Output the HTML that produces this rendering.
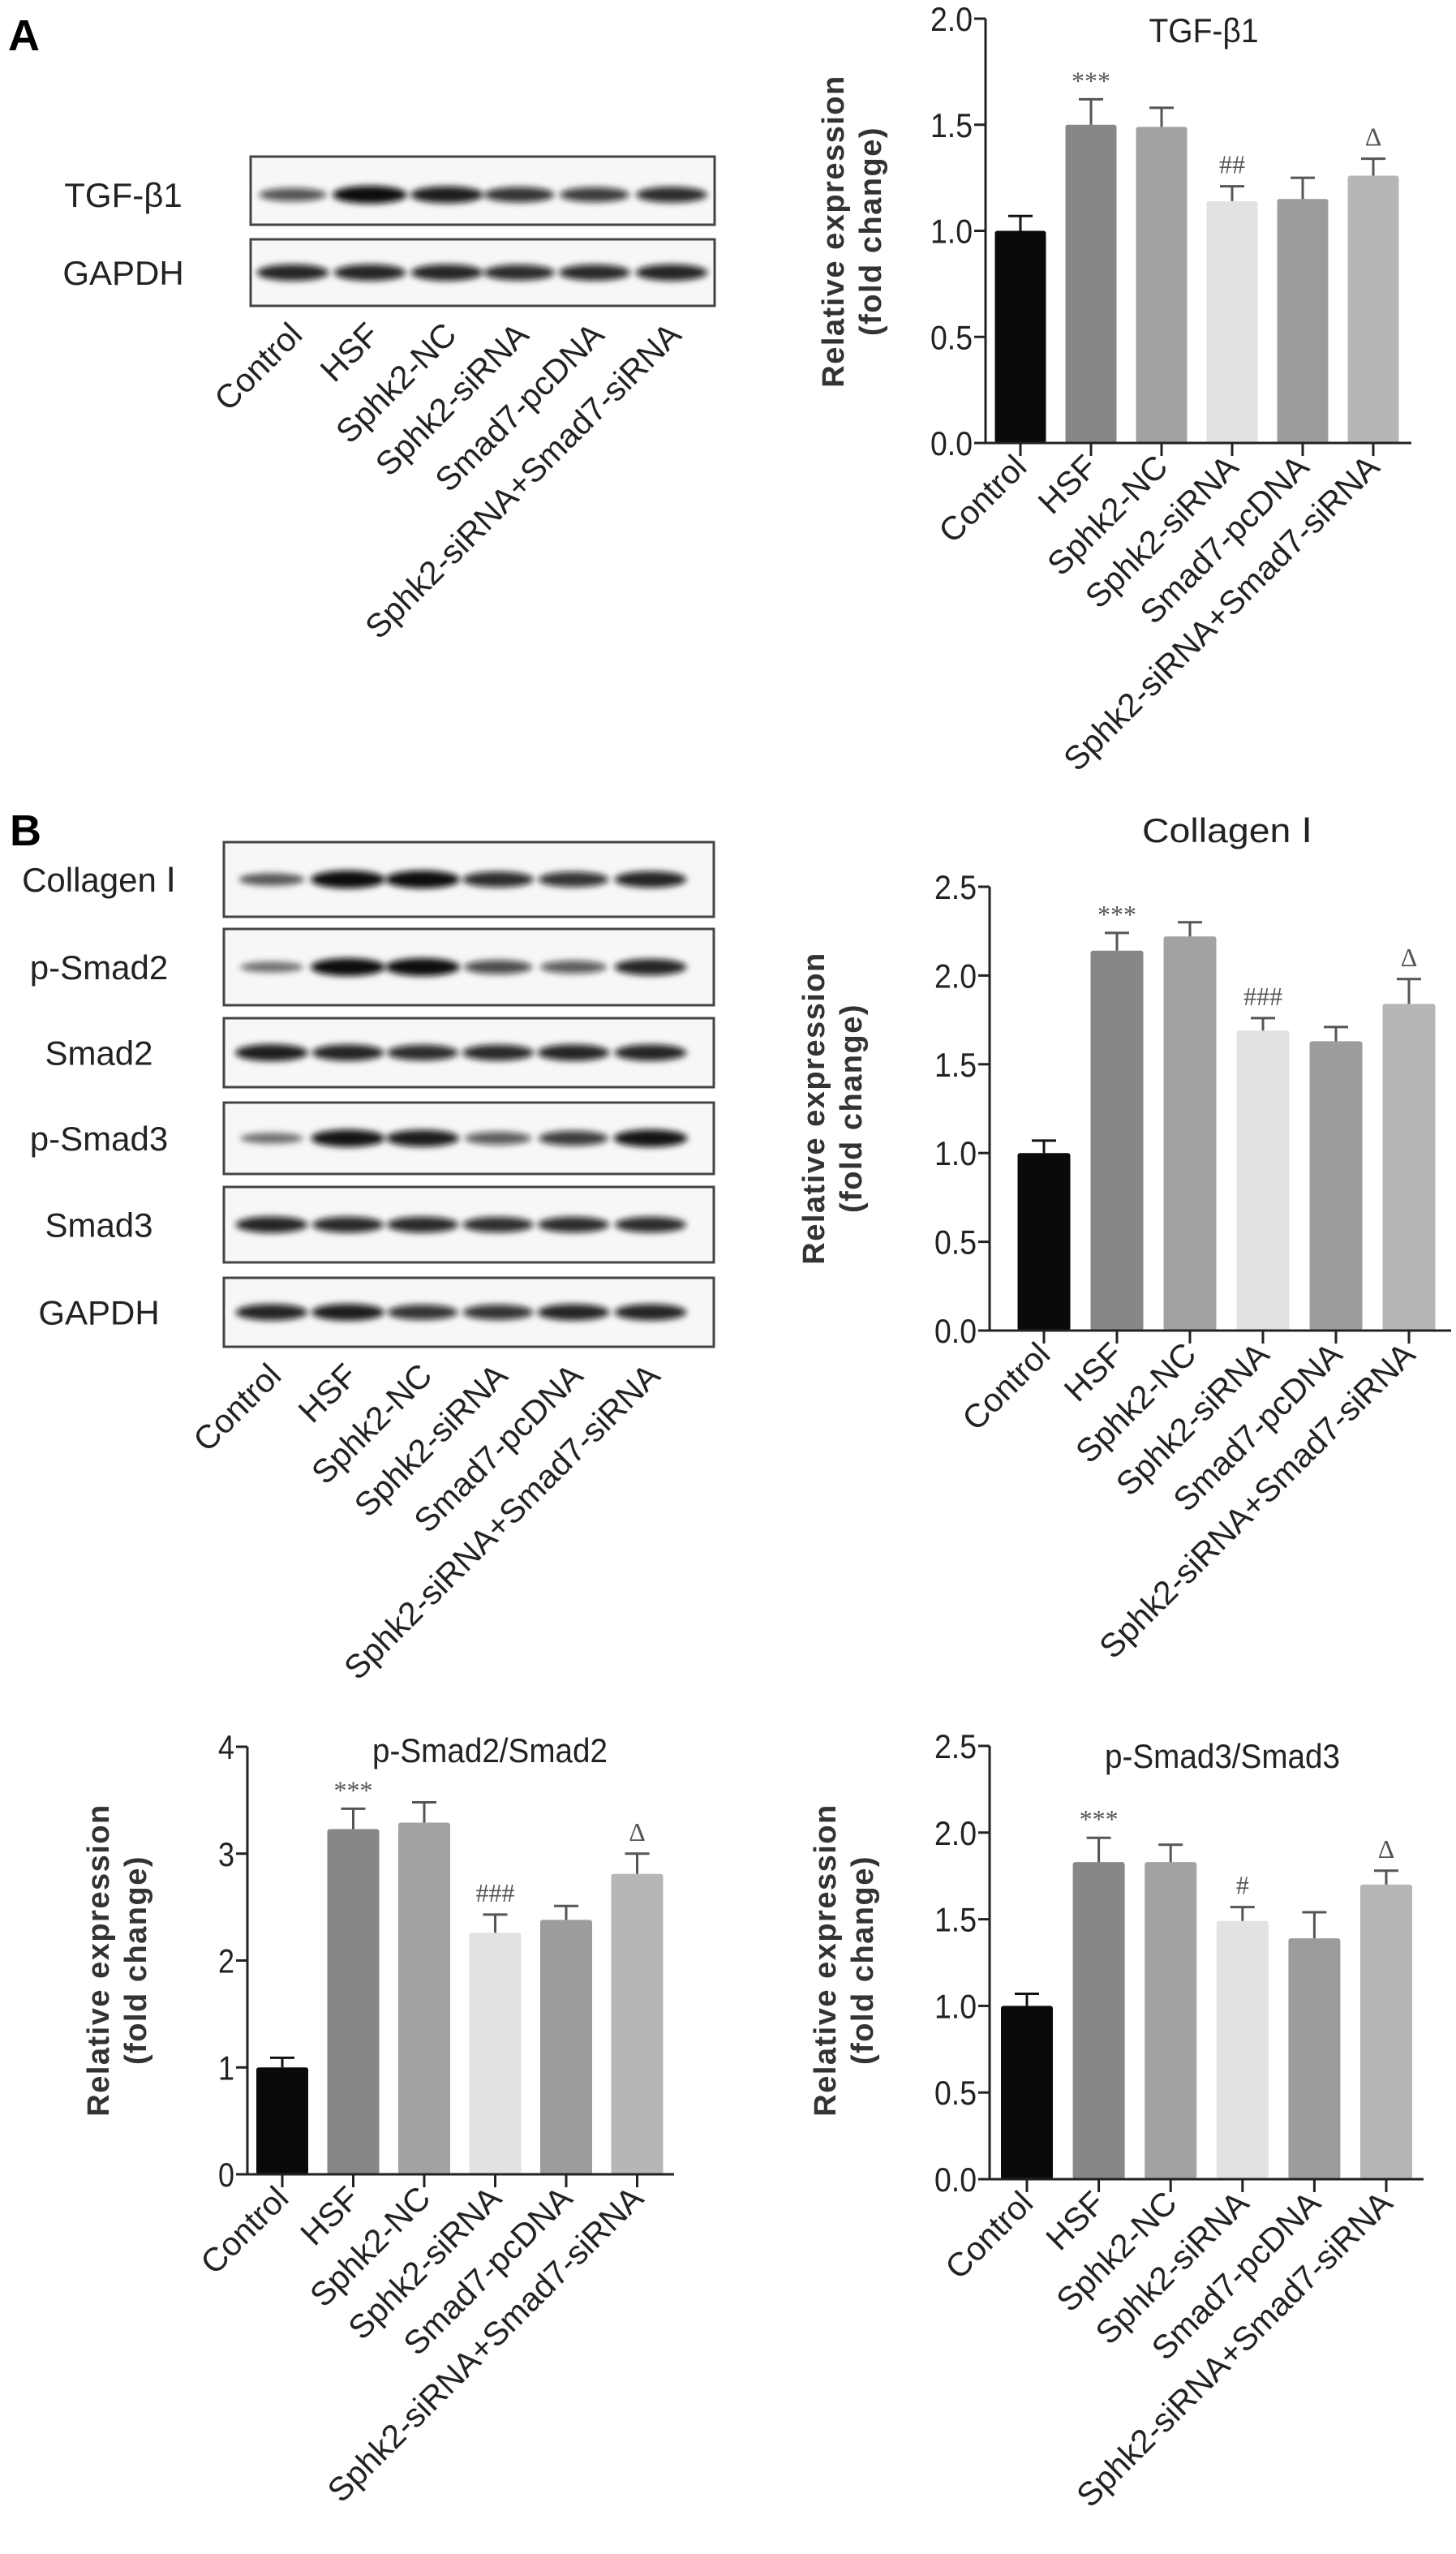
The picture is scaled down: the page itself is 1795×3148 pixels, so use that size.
<!DOCTYPE html>
<html><head><meta charset="utf-8"><style>
html,body{margin:0;padding:0;background:#fff;}
svg{display:block;font-family:"Liberation Sans",Arial,sans-serif;}
</style></head><body>
<svg id="fig" width="1795" height="3148" viewBox="0 0 1795 3148" xmlns="http://www.w3.org/2000/svg">
<defs>
<filter id="blur" x="-30%" y="-100%" width="160%" height="300%"><feGaussianBlur stdDeviation="4"/></filter>
</defs>
<text x="10" y="62" font-size="54" font-weight="bold">A</text>
<text x="12" y="1042" font-size="54" font-weight="bold">B</text>
<g id="root"></g>
</svg>
<script>
const categories = ["Control","HSF","Sphk2-NC","Sphk2-siRNA","Smad7-pcDNA","Sphk2-siRNA+Smad7-siRNA"];
const barColors = ["#0a0a0a","#878787","#a2a2a2","#e2e2e2","#9c9c9c","#b6b6b6"];

const tgfValues = [1.0,1.50,1.49,1.14,1.15,1.26];
const tgfErrors = [0.07,0.12,0.09,0.07,0.10,0.08];
const tgfMarks = ["","***","","##","","\u0394"];
const tgfTicks = ["0.0","0.5","1.0","1.5","2.0"];

const colValues = [1.0,2.14,2.22,1.69,1.63,1.84];
const colErrors = [0.07,0.10,0.08,0.07,0.08,0.14];
const colMarks = ["","***","","###","","\u0394"];
const colTicks = ["0.0","0.5","1.0","1.5","2.0","2.5"];

const ps2Values = [1.0,3.23,3.29,2.26,2.38,2.81];
const ps2Errors = [0.09,0.19,0.19,0.17,0.13,0.19];
const ps2Marks = ["","***","","###","","\u0394"];
const ps2Ticks = ["0","1","2","3","4"];

const ps3Values = [1.0,1.83,1.83,1.49,1.39,1.70];
const ps3Errors = [0.07,0.14,0.10,0.08,0.15,0.08];
const ps3Marks = ["","***","","#","","\u0394"];
const ps3Ticks = ["0.0","0.5","1.0","1.5","2.0","2.5"];

const blotARows = ["TGF-\u03b21","GAPDH"];
const blotAIntensity = [[0.55,1.0,0.9,0.75,0.7,0.8],[0.85,0.85,0.85,0.8,0.82,0.85]];
const blotBRows = ["Collagen \u2160","p-Smad2","Smad2","p-Smad3","Smad3","GAPDH"];
const blotBIntensity = [[0.45,1.0,1.0,0.8,0.75,0.85],[0.3,1.0,1.0,0.6,0.5,0.85],[0.9,0.85,0.8,0.82,0.85,0.85],[0.3,0.95,0.9,0.5,0.7,0.95],[0.85,0.82,0.82,0.78,0.8,0.8],[0.85,0.9,0.75,0.75,0.85,0.85]];

const NS = "http://www.w3.org/2000/svg";
const root = document.getElementById('root');
function el(tag, attrs, parent){
  const e = document.createElementNS(NS, tag);
  for (const k in attrs) e.setAttribute(k, attrs[k]);
  (parent||root).appendChild(e);
  return e;
}

function chart(o){
  const g = el('g',{});
  
  
  const ticks = o.ticks.map(Number);
  const ymax = ticks[ticks.length-1];
  const y = v => o.y0 - (v/ymax)*(o.y0-o.yTop);
  const x = i => o.x0 + o.first + i*o.step;
  o.values.forEach((v,i)=>{
    const cx = x(i);
    const b = el('rect',{x:cx-o.bw/2,y:y(v),width:o.bw,height:o.y0-y(v),fill:barColors[i],rx:3},g);
    
    
    const e = o.errors[i];
    const eb = el('path',{d:`M${cx},${y(v)} V${y(v+e)} M${cx-15},${y(v+e)} H${cx+15}`,stroke:i==0?'#111':'#555','stroke-width':3,fill:'none'},g);
    
    
    if (o.marks[i]) {
      const t = el('text',{x:cx,y:y(v+e)-16,'text-anchor':'middle','font-size':32,fill:'#555','font-family':'"Liberation Serif",serif'},g);
      t.textContent = o.marks[i];
      if (o.marks[i][0]=='*') t.setAttribute('y', y(v+e)-12);
      
      
    }
    el('line',{x1:cx,y1:o.y0,x2:cx,y2:o.y0+16,stroke:'#222','stroke-width':3},g);
    const lab = el('text',{transform:`translate(${cx+10},${o.y0+32}) rotate(-45)`,'text-anchor':'end','font-size':41,fill:'#222'},g);
    lab.textContent = categories[i];
    
    
  });
  const ax = el('path',{d:`M${o.x0},${o.yTop} V${o.y0} H${o.xEnd}`,stroke:'#222','stroke-width':3,fill:'none'},g);
  
  
  o.ticks.forEach(t=>{
    const ty = y(Number(t));
    el('line',{x1:o.x0-14,y1:ty,x2:o.x0,y2:ty,stroke:'#222','stroke-width':3},g);
    const tl = el('text',{x:o.x0-16,y:ty+15,'text-anchor':'end','font-size':42,fill:'#222',textLength:t.length>1?52:20,lengthAdjust:'spacingAndGlyphs'},g);
    tl.textContent = t;
    
    
  });
  const tt = el('text',{x:o.titleX,y:o.titleY,'text-anchor':'middle','font-size':42,fill:'#222',textLength:o.titleLen,lengthAdjust:'spacingAndGlyphs'},g);
  tt.textContent = o.title;
  
  
  const yl = el('text',{transform:`translate(${o.ylX},${o.ylY}) rotate(-90)`,'text-anchor':'middle','font-size':38,'font-weight':'bold',fill:'#333','letter-spacing':1.5},g);
  yl.textContent = 'Relative expression';
  
  
  const yl2 = el('text',{transform:`translate(${o.ylX+46},${o.ylY}) rotate(-90)`,'text-anchor':'middle','font-size':38,'font-weight':'bold',fill:'#333','letter-spacing':1.5},g);
  yl2.textContent = '(fold change)';
  
  
}

function blot(o){
  const g = el('g',{});
  
  
  o.rows.forEach((r,ri)=>{
    const [top,bot] = o.boxes[ri];
    const box = el('rect',{x:o.x0,y:top,width:o.x1-o.x0,height:bot-top,fill:'#f7f7f7',stroke:'#444','stroke-width':3},g);
    
    
    const cy = (top+bot)/2 + (ri==0&&o.rows.length==2?5:0);
    o.intens[ri].forEach((v,li)=>{
      const cx = o.lanes[li];
      const band = el('ellipse',{cx:cx,cy:cy,rx:36+v*10,ry:5+v*6,fill:`rgba(10,10,10,${0.35+0.65*v})`,filter:'url(#blur)'},g);
      
      
    });
    const lab = el('text',{x:o.labelX,y:cy+15,'text-anchor':'middle','font-size':42,fill:'#222'},g);
    lab.textContent = r;
    
    
  });
  const bottom = o.boxes[o.boxes.length-1][1];
  categories.forEach((c,li)=>{
    const t = el('text',{transform:`translate(${o.lanes[li]+14},${bottom+38}) rotate(-45)`,'text-anchor':'end','font-size':41,fill:'#222'},g);
    t.textContent = c;
    
    
  });
}

blot({name:'blot-a',rows:blotARows,intens:blotAIntensity,x0:309,x1:881,boxes:[[193,277],[295,377]],lanes:[361,456,551,640,733,828],labelX:152});
blot({name:'blot-b',rows:blotBRows,intens:blotBIntensity,x0:276,x1:880,boxes:[[1038,1130],[1145,1239],[1255,1340],[1359,1447],[1463,1556],[1575,1660]],lanes:[335,429,521,614,707,802],labelX:122});

chart({name:'chart-tgf-b1',values:tgfValues,errors:tgfErrors,marks:tgfMarks,ticks:tgfTicks,x0:1215,y0:546,yTop:23,first:43,step:87,bw:63,xEnd:1740,title:'TGF-\u03b21',titleX:1484,titleY:52,titleLen:135,ylX:1040,ylY:285});
chart({name:'chart-collagen-i',values:colValues,errors:colErrors,marks:colMarks,ticks:colTicks,x0:1220,y0:1640,yTop:1093,first:67,step:90,bw:65,xEnd:1789,title:'Collagen \u2160',titleX:1513,titleY:1038,titleLen:210,ylX:1016,ylY:1366});
chart({name:'chart-p-smad2',values:ps2Values,errors:ps2Errors,marks:ps2Marks,ticks:ps2Ticks,x0:305,y0:2680,yTop:2153,first:43,step:87.5,bw:64,xEnd:831,title:'p-Smad2/Smad2',titleX:604,titleY:2172,titleLen:290,ylX:134,ylY:2416});
chart({name:'chart-p-smad3',values:ps3Values,errors:ps3Errors,marks:ps3Marks,ticks:ps3Ticks,x0:1220,y0:2686,yTop:2152,first:46,step:88.6,bw:64,xEnd:1755,title:'p-Smad3/Smad3',titleX:1507,titleY:2179,titleLen:290,ylX:1030,ylY:2416});
</script>
</body></html>
